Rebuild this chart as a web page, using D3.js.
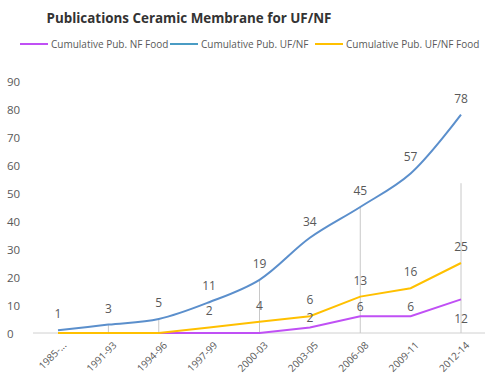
<!DOCTYPE html>
<html>
<head>
<meta charset="utf-8">
<script src="https://cdn.jsdelivr.net/npm/d3@7"></script>
<style>
  body { margin: 0; background: #fff; }
  text { font-family: "Open Sans", "Liberation Sans", sans-serif; }
</style>
</head>
<body>
<svg width="493" height="383"></svg>
<script>
// categories and values
const periods = ['1985-...', '1991-93', '1994-96', '1997-99', '2000-03', '2003-05', '2006-08', '2009-11', '2012-14'];
const ufnf = [1, 3, 5, 11, 19, 34, 45, 57, 78];
const ufnfFood = [0, 0, 0, 2, 4, 6, 13, 16, 25];
const nfFood = [0, 0, 0, 0, 0, 2, 6, 6, 12];
// which points get a value label (null = no label)
const ufnfFoodLabels = [null, null, null, 2, 4, 6, 13, 16, 25];
const nfFoodLabels = [null, null, null, null, null, 2, 6, 6, 12];
// grey drop lines, top value per category (null = none)
const dropTops = [null, 3, 5, null, 19, null, 45, null, 53.5];
const yTicks = [0, 10, 20, 30, 40, 50, 60, 70, 80, 90];

const svg = d3.select('svg');
const width = +svg.attr('width');

const colors = { nf: '#c050f5', uf: '#5b8fcc', uffood: '#ffc000' };
const textGrey = '#595959';

//scales
const x = d3.scalePoint().domain(periods).range([58, 461]);
const y = d3.scaleLinear().domain([0, 90]).range([333, 81]);

//title
svg.append('text')
    .attr('x', 189)
    .attr('y', 23)
    .attr('text-anchor', 'middle')
    .attr('font-size', 13.4)
    .attr('font-weight', 'bold')
    .attr('fill', '#333')
    .text('Publications Ceramic Membrane for UF/NF');

//legend
const legendItems = [
    { name: 'Cumulative Pub. NF Food', color: colors.nf, x: 20 },
    { name: 'Cumulative Pub. UF/NF', color: '#4a9cc4', x: 170 },
    { name: 'Cumulative Pub. UF/NF Food', color: colors.uffood, x: 315 }
];
const legend = svg.append('g').attr('transform', 'translate(0,44)');
legendItems.forEach(d => {
    legend.append('line')
        .attr('x1', d.x).attr('x2', d.x + 28)
        .attr('stroke', d.color).attr('stroke-width', 2);
    legend.append('text')
        .attr('x', d.x + 31).attr('y', 4)
        .attr('font-size', 10)
        .attr('fill', textGrey)
        .text(d.name);
});

//y axis labels
svg.append('g').selectAll('text')
    .data(yTicks)
    .join('text')
    .attr('x', 7)
    .attr('y', d => y(d) + 4.5)
    .attr('font-size', 11.5)
    .attr('fill', textGrey)
    .text(d => d);

//x axis line
svg.append('line')
    .attr('x1', 33).attr('x2', 485)
    .attr('y1', y(0)).attr('y2', y(0))
    .attr('stroke', '#d0d0d0');

//x labels rotated
svg.append('g').selectAll('text')
    .data(periods)
    .join('text')
    .attr('text-anchor', 'end')
    .attr('transform', d => `translate(${x(d) + 9},${y(0) + 13}) rotate(-45)`)
    .attr('font-size', 10)
    .attr('fill', textGrey)
    .text(d => d);

//drop lines
svg.append('g').selectAll('line')
    .data(dropTops.map((v, i) => ({ v, p: periods[i] })).filter(d => d.v !== null))
    .join('line')
    .attr('x1', d => x(d.p)).attr('x2', d => x(d.p))
    .attr('y1', d => y(d.v)).attr('y2', y(0))
    .attr('stroke', '#c8c8c8');

//lines
const straight = d3.line().x((d, i) => x(periods[i])).y(d => y(d));
const smooth = d3.line().x((d, i) => x(periods[i])).y(d => y(d)).curve(d3.curveCatmullRom.alpha(0.5));

svg.append('path').datum(nfFood)
    .attr('d', straight).attr('fill', 'none')
    .attr('stroke', colors.nf).attr('stroke-width', 2);
svg.append('path').datum(ufnfFood)
    .attr('d', straight).attr('fill', 'none')
    .attr('stroke', colors.uffood).attr('stroke-width', 2);
svg.append('path').datum(ufnf)
    .attr('d', smooth).attr('fill', 'none')
    .attr('stroke', colors.uf).attr('stroke-width', 2);

//data labels
const labels = svg.append('g')
    .attr('font-size', 12)
    .attr('fill', textGrey)
    .attr('text-anchor', 'middle');

ufnf.forEach((v, i) => {
    labels.append('text')
        .attr('x', x(periods[i])).attr('y', y(v) - 12)
        .text(v);
});
ufnfFoodLabels.forEach((v, i) => {
    if (v === null) return;
    labels.append('text')
        .attr('x', x(periods[i])).attr('y', y(ufnfFood[i]) - 12)
        .text(v);
});
nfFoodLabels.forEach((v, i) => {
    if (v === null) return;
    // last one sits below the line, the others just above
    const dy = i === periods.length - 1 ? 24 : -5;
    labels.append('text')
        .attr('x', x(periods[i])).attr('y', y(nfFood[i]) + dy)
        .text(v);
});
</script>
</body>
</html>
